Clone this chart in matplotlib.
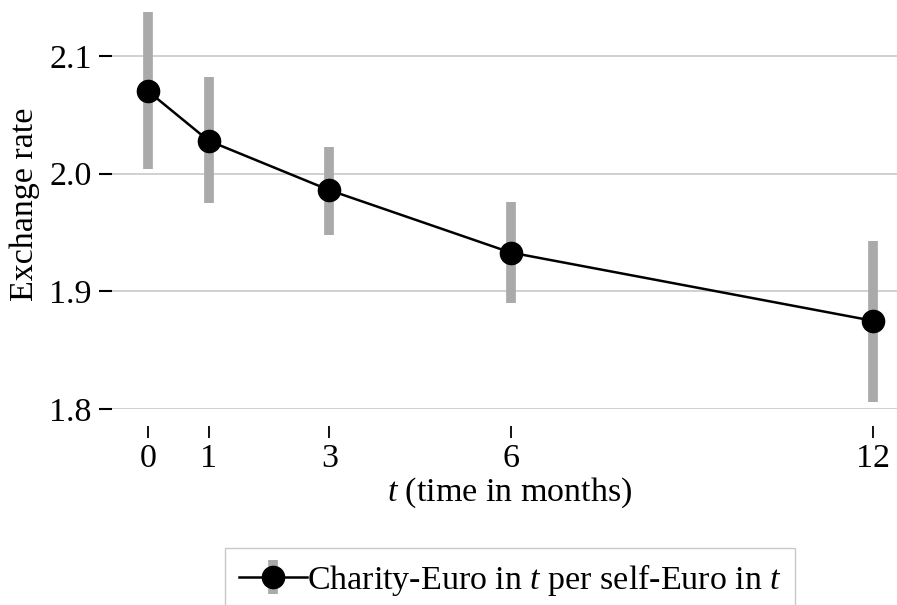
import numpy as np
import matplotlib
matplotlib.use('Agg')
import matplotlib.pyplot as plt

plt.rcParams['font.family'] = ['Liberation Serif', 'DejaVu Serif']
plt.rcParams['mathtext.fontset'] = 'custom'
plt.rcParams['mathtext.rm'] = 'Liberation Serif'
plt.rcParams['mathtext.it'] = 'Liberation Serif:italic'

# data
months = [0, 1, 3, 6, 12]
rate = [2.070, 2.028, 1.986, 1.933, 1.875]
ci_low = [2.004, 1.975, 1.948, 1.890, 1.806]
ci_high = [2.137, 2.082, 2.023, 1.976, 1.943]
y_ticks = [1.8, 1.9, 2.0, 2.1]
legend_label = 'Charity-Euro in $t$ per self-Euro in $t$'

rate = np.array(rate)
yerr = [rate - np.array(ci_low), np.array(ci_high) - rate]

fs = 24.5

fig = plt.figure(figsize=(8.97, 6.05), dpi=100)
ax = fig.add_axes([112/897, 1 - 409/605, 1 - 112/897, 409/605])

ax.errorbar(months, rate, yerr=yerr, color='black', lw=1.8, marker='o',
            markersize=16, ecolor='#aaaaaa', elinewidth=7, capsize=0,
            label=legend_label, zorder=3)

ax.set_xlim(-0.6, 12.4)
ax.set_ylim(1.8, 2.1476)
ax.set_xticks(months)
ax.set_yticks(y_ticks)
ax.set_yticklabels(['%.1f' % v for v in y_ticks])
ax.grid(axis='y', color='#c4c4c4', lw=1.1, zorder=0)
ax.set_axisbelow(True)

for s in ax.spines.values():
    s.set_visible(False)
ax.spines['bottom'].set_position(('outward', 12))

ax.tick_params(axis='y', length=9.5, width=1.5, direction='out', pad=5, labelsize=fs)
ax.tick_params(axis='x', length=8.5, width=1.3, direction='out', pad=4, labelsize=fs)

ax.set_ylabel('Exchange rate', fontsize=fs, labelpad=7)
fig.text(510/897, 1 - 493/605, '$t$ (time in months)', fontsize=fs,
         ha='center', va='center')

fig.legend(loc='upper center', bbox_to_anchor=(510/897, 1 - 548/605),
           fontsize=fs, frameon=True, fancybox=False, edgecolor='#bbbbbb',
           handlelength=2.0, handletextpad=0.0, borderpad=0.4, borderaxespad=0)

fig.savefig('out.png', dpi=100)
